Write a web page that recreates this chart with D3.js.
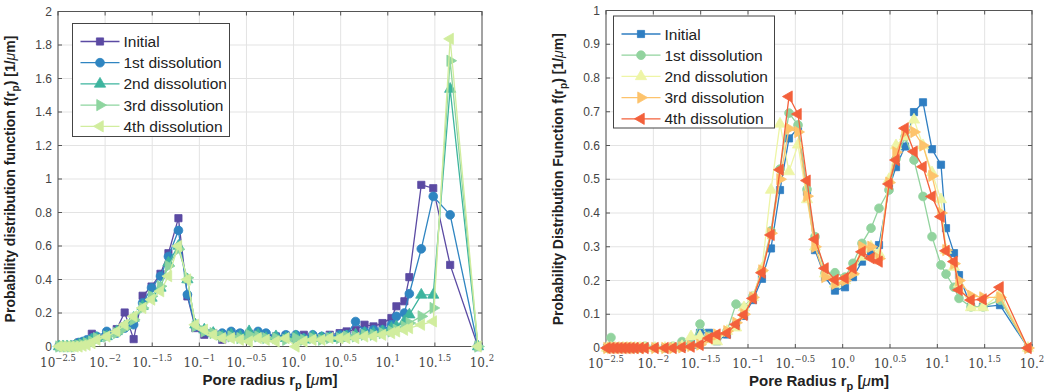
<!DOCTYPE html>
<html>
<head>
<meta charset="utf-8">
<script src="https://cdn.jsdelivr.net/npm/d3@7"></script>
<style>
  body { margin: 0; background: #fff; }
  svg { display: block; }
</style>
</head>
<body>
<svg id="chart" width="1044" height="392"></svg>
<script>
// pore radius bin centres (um), same bins for both panels
const radius = [0.00324, 0.00357, 0.00394, 0.00434, 0.00478, 0.00527, 0.00581, 0.00640, 0.00723, 0.00816,
  0.01041, 0.01328, 0.01613, 0.02008, 0.0250, 0.0311, 0.0387, 0.0470, 0.0600, 0.0747,
  0.0907, 0.1129, 0.1405, 0.1749, 0.2178, 0.2710, 0.3375, 0.4201, 0.5102, 0.6506,
  0.8296, 1.058, 1.285, 1.600, 1.992, 2.420, 3.086, 3.660, 4.556, 5.668,
  7.057, 8.783, 10.93, 12.35, 15.00, 16.94, 22.68, 30.37, 45.92, 90.7];

const seriesNames = ['Initial', '1st dissolution', '2nd dissolution', '3rd dissolution', '4th dissolution'];

// left panel
const leftInitial = [0, 0, 0, 0.005, 0.01, 0.024, 0.02, 0.03, 0.076, 0.05,
  0.08, 0.104, 0.203, 0.044, 0.303, 0.358, 0.434, 0.557, 0.766, 0.299,
  0.11, 0.07, 0.08, 0.04, 0.07, 0.076, 0.076, 0.06, 0.07, 0.06,
  0.065, 0.05, 0.07, 0.06, 0.05, 0.07, 0.08, 0.09, 0.1, 0.13,
  0.12, 0.14, 0.17, 0.24, 0.27, 0.414, 0.965, 0.945, 0.487, 0];
const leftFirst = [0, 0, 0, 0, 0.01, 0.024, 0.03, 0.04, 0.05, 0.06,
  0.09, 0.08, 0.11, 0.13, 0.26, 0.35, 0.42, 0.537, 0.693, 0.31,
  0.12, 0.09, 0.08, 0.08, 0.09, 0.08, 0.07, 0.09, 0.08, 0.06,
  0.07, 0.07, 0.05, 0.07, 0.06, 0.06, 0.07, 0.07, 0.149, 0.09,
  0.1, 0.1, 0.13, 0.18, 0.2, 0.315, 0.583, 0.896, 0.786, 0];
const leftSecond = [0, 0, 0, 0, 0.005, 0.01, 0.015, 0.02, 0.04, 0.05,
  0.06, 0.09, 0.12, 0.17, 0.24, 0.29, 0.35, 0.5, 0.6, 0.4,
  0.13, 0.1, 0.08, 0.06, 0.07, 0.06, 0.09, 0.07, 0.05, 0.06,
  0.05, 0.06, 0.04, 0.06, 0.05, 0.05, 0.05, 0.06, 0.07, 0.08,
  0.08, 0.09, 0.11, 0.12, 0.15, 0.19, 0.308, 0.308, 1.537, 0];
const leftThird = [0, 0, 0, 0, 0, 0.005, 0.01, 0.02, 0.03, 0.05,
  0.06, 0.08, 0.11, 0.16, 0.23, 0.3, 0.36, 0.48, 0.58, 0.41,
  0.12, 0.09, 0.08, 0.06, 0.06, 0.05, 0.07, 0.06, 0.05, 0.05,
  0.04, 0.05, 0.04, 0.05, 0.04, 0.05, 0.05, 0.06, 0.06, 0.07,
  0.07, 0.08, 0.09, 0.1, 0.12, 0.14, 0.18, 0.23, 1.706, 0];
const leftFourth = [0, 0, 0, 0, 0, 0, 0.005, 0.01, 0.02, 0.04,
  0.06, 0.09, 0.13, 0.18, 0.23, 0.28, 0.33, 0.42, 0.6, 0.4,
  0.13, 0.1, 0.07, 0.05, 0.05, 0.04, 0.03, 0.05, 0.04, 0.03,
  0.05, 0, 0.03, 0.04, 0.04, 0.05, 0.05, 0.05, 0.05, 0.06,
  0.06, 0.07, 0.08, 0.09, 0.1, 0.11, 0.13, 0.15, 1.837, 0];

// right panel
const rightInitial = [0, 0, 0, 0, 0, 0, 0, 0, 0, 0,
  0, 0, 0, 0.002, 0.01, 0.045, 0.045, 0.02, 0.04, 0.068,
  0.095, 0.142, 0.205, 0.295, 0.468, 0.621, 0.651, 0.463, 0.29, 0.21,
  0.17, 0.18, 0.21, 0.256, 0.285, 0.305, 0.473, 0.536, 0.597, 0.699,
  0.728, 0.589, 0.543, 0.355, 0.281, 0.216, 0.122, 0.122, 0.127, 0];
const rightFirst = [0, 0.031, 0, 0, 0, 0, 0, 0, 0, 0.005,
  0.002, 0, 0.005, 0.019, 0.01, 0.071, 0.035, 0.03, 0.05, 0.13,
  0.12, 0.154, 0.23, 0.347, 0.53, 0.696, 0.661, 0.47, 0.33, 0.221,
  0.223, 0.21, 0.251, 0.31, 0.355, 0.414, 0.468, 0.56, 0.626, 0.557,
  0.449, 0.33, 0.246, 0.219, 0.18, 0.147, 0.122, 0.122, 0.142, 0];
const rightSecond = [0, 0, 0, 0, 0, 0, 0, 0, 0, 0,
  0, 0, 0, 0.005, 0.034, 0.035, 0.025, 0.019, 0.05, 0.06,
  0.12, 0.15, 0.235, 0.468, 0.664, 0.523, 0.602, 0.44, 0.3, 0.22,
  0.19, 0.2, 0.225, 0.27, 0.3, 0.28, 0.5, 0.6, 0.626, 0.676,
  0.6, 0.52, 0.44, 0.29, 0.24, 0.19, 0.12, 0.12, 0.16, 0];
const rightThird = [0, 0, 0, 0, 0, 0, 0, 0, 0, 0,
  0, 0, 0, 0.002, 0.006, 0.01, 0.03, 0.04, 0.05, 0.075,
  0.1, 0.15, 0.23, 0.34, 0.5, 0.65, 0.64, 0.45, 0.3, 0.21,
  0.19, 0.2, 0.22, 0.3, 0.3, 0.265, 0.49, 0.58, 0.64, 0.64,
  0.6, 0.51, 0.4, 0.29, 0.25, 0.2, 0.155, 0.15, 0.15, 0];
const rightFourth = [0, 0, 0, 0, 0, 0, 0, 0, 0, 0,
  0, 0, 0, 0.002, 0.004, 0.009, 0.029, 0.04, 0.044, 0.07,
  0.098, 0.147, 0.223, 0.335, 0.528, 0.745, 0.693, 0.496, 0.322, 0.236,
  0.202, 0.207, 0.236, 0.285, 0.266, 0.256, 0.486, 0.557, 0.651, 0.582,
  0.537, 0.449, 0.389, 0.288, 0.256, 0.172, 0.142, 0.144, 0.18, 0];

const leftColors = ['#5b4aa3', '#2f85c1', '#3db49e', '#8ed59f', '#d1ed9e'];
const rightColors = ['#2f7ec2', '#92d39e', '#eef5a6', '#fdc36c', '#f3603b'];

const xTickExp = [-2.5, -2, -1.5, -1, -0.5, 0, 0.5, 1, 1.5, 2];
const xTickBase = ['10', '10.', '10.', '10.', '10.', '10.', '10.', '10.', '10.', '10.'];
const xTickSup = ['\u22122.5', '\u22122', '\u22121.5', '\u22121', '\u22120.5', '0', '0.5', '1', '1.5', '2'];

const svg = d3.select('#chart');
const font = 'Liberation Sans, Arial, Helvetica, sans-serif';

// marker shapes: square, circle, up/right/left triangles
const markers = [
  { type: d3.symbolSquare, size: 52, rot: 0 },
  { type: d3.symbolCircle, size: 60, rot: 0 },
  { type: d3.symbolTriangle, size: 55, rot: 0 },
  { type: d3.symbolTriangle, size: 55, rot: 90 },
  { type: d3.symbolTriangle, size: 55, rot: -90 }
];

function drawPanel(p) {
  const g = svg.append('g');
  const x = d3.scaleLog().domain([Math.pow(10, -2.5), 100]).range([p.left, p.right]);
  const y = d3.scaleLinear().domain([0, p.yMax]).range([p.bottom, p.top]);
  const xTicks = xTickExp.map(e => Math.pow(10, e));
  const yTicks = d3.range(0, p.yMax + p.yStep / 2, p.yStep);

  // grid
  g.selectAll('.gx').data(xTicks).enter().append('line')
    .attr('x1', d => x(d)).attr('x2', d => x(d))
    .attr('y1', p.top).attr('y2', p.bottom)
    .attr('stroke', '#e3e3e3').attr('stroke-width', 1);
  g.selectAll('.gy').data(yTicks).enter().append('line')
    .attr('x1', p.left).attr('x2', p.right)
    .attr('y1', d => y(d)).attr('y2', d => y(d))
    .attr('stroke', '#e3e3e3').attr('stroke-width', 1);

  // box
  g.append('rect')
    .attr('x', p.left).attr('y', p.top)
    .attr('width', p.right - p.left).attr('height', p.bottom - p.top)
    .attr('fill', 'none').attr('stroke', '#555').attr('stroke-width', 1);

  // inner ticks on all four sides
  const tl = 4;
  xTicks.forEach(t => {
    g.append('line').attr('x1', x(t)).attr('x2', x(t)).attr('y1', p.bottom).attr('y2', p.bottom - tl).attr('stroke', '#555');
    g.append('line').attr('x1', x(t)).attr('x2', x(t)).attr('y1', p.top).attr('y2', p.top + tl).attr('stroke', '#555');
  });
  yTicks.forEach(t => {
    g.append('line').attr('x1', p.left).attr('x2', p.left + tl).attr('y1', y(t)).attr('y2', y(t)).attr('stroke', '#555');
    g.append('line').attr('x1', p.right).attr('x2', p.right - tl).attr('y1', y(t)).attr('y2', y(t)).attr('stroke', '#555');
  });

  // y tick labels
  g.selectAll('.yl').data(yTicks).enter().append('text')
    .attr('x', p.left - 6).attr('y', d => y(d) + 4)
    .attr('text-anchor', 'end')
    .attr('font-family', font).attr('font-size', 12).attr('fill', '#444')
    .text(d => d3.format('~g')(+d.toFixed(2)));

  // x tick labels (MATLAB-style latex powers)
  xTicks.forEach((t, i) => {
    const tx = g.append('text')
      .attr('x', x(t)).attr('y', p.bottom + 20)
      .attr('text-anchor', 'middle')
      .attr('font-family', 'DejaVu Serif, Liberation Serif, serif')
      .attr('font-size', 12).attr('fill', '#444');
    tx.append('tspan').text(xTickBase[i]);
    tx.append('tspan').attr('dy', -6).attr('font-size', 8.5).text(xTickSup[i]);
  });

  // axis titles
  const xt = g.append('text')
    .attr('x', (p.left + p.right) / 2).attr('y', p.bottom + 38)
    .attr('text-anchor', 'middle')
    .attr('font-family', font).attr('font-size', 15).attr('font-weight', 'bold').attr('fill', '#222');
  xt.append('tspan').text(p.xTitle);
  xt.append('tspan').attr('dy', 4).attr('font-size', 11).text('p');
  xt.append('tspan').attr('dy', -4).text(' [');
  xt.append('tspan').attr('font-style', 'italic').attr('font-weight', 'normal').text('\u03bc');
  xt.append('tspan').text('m]');

  const cy = (p.top + p.bottom) / 2;
  const yt = g.append('text')
    .attr('transform', `translate(${p.left - 43},${cy}) rotate(-90)`)
    .attr('text-anchor', 'middle')
    .attr('font-family', font).attr('font-size', 14).attr('font-weight', 'bold').attr('fill', '#222');
  yt.append('tspan').text(p.yTitle + ' f(r');
  yt.append('tspan').attr('dy', 4).attr('font-size', 10).text('p');
  yt.append('tspan').attr('dy', -4).text(') [1/');
  yt.append('tspan').attr('font-style', 'italic').attr('font-weight', 'normal').text('\u03bc');
  yt.append('tspan').text('m]');

  // series
  const line = d3.line().x(d => x(d[0])).y(d => y(d[1]));
  p.values.forEach((vals, si) => {
    const pts = radius.map((r, i) => [r, vals[i]]);
    const col = p.colors[si];
    g.append('path').datum(pts)
      .attr('d', line).attr('fill', 'none')
      .attr('stroke', col).attr('stroke-width', 1.3);
    const m = markers[si];
    const sym = d3.symbol().type(m.type).size(m.size);
    g.selectAll('.m' + si).data(pts).enter().append('path')
      .attr('d', sym)
      .attr('transform', d => `translate(${x(d[0])},${y(d[1])}) rotate(${m.rot})`)
      .attr('fill', col).attr('stroke', col).attr('stroke-width', 0.8);
  });

  // legend
  const lg = g.append('g');
  lg.append('rect')
    .attr('x', p.legend.x).attr('y', p.legend.y)
    .attr('width', p.legend.w).attr('height', p.legend.h)
    .attr('fill', '#fff').attr('stroke', '#444').attr('stroke-width', 1);
  seriesNames.forEach((name, si) => {
    const ry = p.legend.y + 18 + si * 21.2;
    const lx = p.legend.x + 8;
    const col = p.colors[si];
    lg.append('line').attr('x1', lx).attr('x2', lx + 39).attr('y1', ry).attr('y2', ry)
      .attr('stroke', col).attr('stroke-width', 1.3);
    const m = markers[si];
    lg.append('path').attr('d', d3.symbol().type(m.type).size(m.size))
      .attr('transform', `translate(${lx + 19.5},${ry}) rotate(${m.rot})`)
      .attr('fill', col).attr('stroke', col).attr('stroke-width', 0.8);
    lg.append('text').attr('x', lx + 43).attr('y', ry + 5.5)
      .attr('font-family', font).attr('font-size', 15.5).attr('fill', '#222')
      .text(name);
  });
}

drawPanel({
  left: 58, right: 482, top: 11.5, bottom: 346.5, yMax: 2, yStep: 0.2,
  values: [leftInitial, leftFirst, leftSecond, leftThird, leftFourth],
  colors: leftColors,
  xTitle: 'Pore radius r',
  yTitle: 'Probability distribution function',
  legend: { x: 72.5, y: 23.5, w: 157, h: 113 }
});

drawPanel({
  left: 606, right: 1032, top: 10.5, bottom: 348, yMax: 1, yStep: 0.1,
  values: [rightInitial, rightFirst, rightSecond, rightThird, rightFourth],
  colors: rightColors,
  xTitle: 'Pore Radius r',
  yTitle: 'Probability Distribution Function',
  legend: { x: 613.5, y: 16, w: 161, h: 112 }
});
</script>
</body>
</html>
